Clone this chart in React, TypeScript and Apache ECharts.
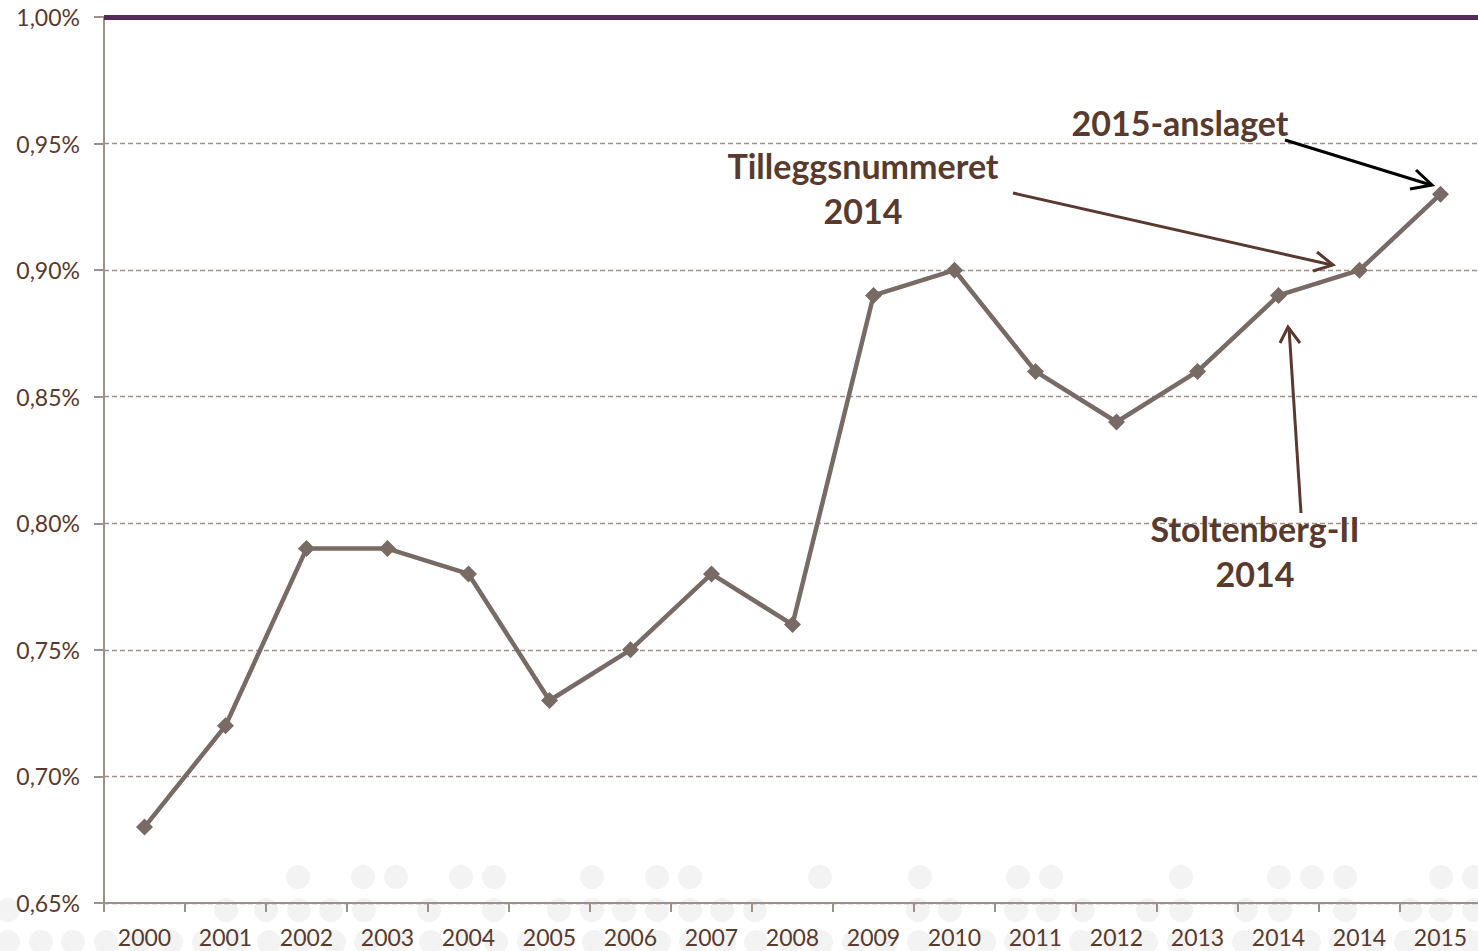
import React, { useEffect, useRef } from "react";
import * as echarts from "echarts";

const categories = ["2000","2001","2002","2003","2004","2005","2006","2007","2008","2009","2010","2011","2012","2013","2014","2014","2015"];
const values = [0.68,0.72,0.79,0.79,0.78,0.73,0.75,0.78,0.76,0.89,0.90,0.86,0.84,0.86,0.89,0.90,0.93];
const yMin = 0.65;
const yMax = 1.0;
const yInterval = 0.05;

const TEXT = "#583a2e";
const FONT = "Lato, 'Open Sans', sans-serif";

// decorative faint dots (background pattern)
const dotsTop = [298,363,396,461,494,592,657,690,820,920,1018,1051,1181,1279,1312,1345,1441,1474];
const dotsMid = [8,226,266,299,331,364,429,494,559,592,624,657,690,722,755,918,950,1016,1048,1083,1148,1181,1246,1280,1345,1410,1441,1474];
const dotsBot = [8,41,73,106,139,171,204,236,269,301,334,366,399,431,464,496,529,561,594,626,659,691,724,756,789,821,854,886,919,951,984,1016,1049,1081,1114,1146,1179,1211,1244,1276,1309,1341,1374,1406,1439,1471];

export default function App() {
  const ref = useRef<HTMLDivElement>(null);
  useEffect(() => {
    document.body.style.margin = "0";
    document.body.style.overflow = "hidden";
    const chart = echarts.init(ref.current!, null, { renderer: "svg" });
    const dot = (x: number, y: number) => ({
      type: "circle", shape: { cx: x, cy: y, r: 12 }, style: { fill: "#f3f3f3" }, z: -10, silent: true,
    });
    const arrowStyle = (c: string) => ({ stroke: c, lineWidth: 3, fill: "none" });
    const label = (text: string, x: number, y: number) => ({
      type: "text", x, y, z: 20,
      style: { text, fill: TEXT, font: `bold 34px ${FONT}`, textAlign: "center", textVerticalAlign: "middle" },
    });
    chart.setOption({
      animation: false,
      backgroundColor: "#ffffff",
      grid: { left: 104, top: 17, width: 1377, height: 886, containLabel: false },
      xAxis: {
        type: "category",
        data: categories,
        boundaryGap: true,
        axisLine: { lineStyle: { color: "#9a908c", width: 2 } },
        axisTick: { show: true, length: 9, lineStyle: { color: "#9a908c", width: 2 } },
        axisLabel: { color: TEXT, fontSize: 23, fontFamily: FONT, margin: 22, interval: 0 },
        splitLine: { show: false },
      },
      yAxis: {
        type: "value",
        min: yMin,
        max: yMax,
        interval: yInterval,
        axisLine: { show: true, lineStyle: { color: "#9a908c", width: 2 } },
        axisTick: { show: true, length: 10, lineStyle: { color: "#9a908c", width: 2 } },
        axisLabel: {
          color: TEXT, fontSize: 23, fontFamily: FONT, margin: 24,
          formatter: (v: number) => v.toFixed(2).replace(".", ",") + "%",
        },
        splitLine: { show: true, lineStyle: { color: "#9a908c", type: [5, 3], width: 1.3 } },
      },
      series: [
        {
          type: "line",
          data: values,
          symbol: "diamond",
          symbolSize: 17,
          lineStyle: { color: "#786a64", width: 4.5 },
          itemStyle: { color: "#786a64" },
          z: 5,
          markLine: {
            silent: true,
            symbol: "none",
            label: { show: false },
            lineStyle: { color: "#55295a", width: 5, type: "solid" },
            data: [{ yAxis: yMax }],
          },
        },
      ],
      graphic: [
        ...dotsTop.map((x) => dot(x, 877)),
        ...dotsMid.map((x) => dot(x, 910)),
        ...dotsBot.map((x) => dot(x, 942)),
        label("2015-anslaget", 1180, 122),
        { type: "polyline", shape: { points: [[1285, 140], [1431, 185]] }, style: arrowStyle("#000000"), z: 20 },
        { type: "polyline", shape: { points: [[1416, 170], [1432, 185], [1410, 189]] }, style: arrowStyle("#000000"), z: 20 },
        label("Tilleggsnummeret", 863, 165),
        label("2014", 863, 210),
        { type: "polyline", shape: { points: [[1013, 193], [1332, 265]] }, style: arrowStyle("#5a3a30"), z: 20 },
        { type: "polyline", shape: { points: [[1317, 252], [1333, 265], [1313, 271]] }, style: arrowStyle("#5a3a30"), z: 20 },
        label("Stoltenberg-II", 1255, 528),
        label("2014", 1255, 573),
        { type: "polyline", shape: { points: [[1301, 513], [1289, 328]] }, style: arrowStyle("#5a3a30"), z: 20 },
        { type: "polyline", shape: { points: [[1280, 343], [1288, 327], [1300, 343]] }, style: arrowStyle("#5a3a30"), z: 20 },
      ],
    });
    return () => chart.dispose();
  }, []);
  return <div ref={ref} style={{ width: 1481, height: 951 }} />;
}
